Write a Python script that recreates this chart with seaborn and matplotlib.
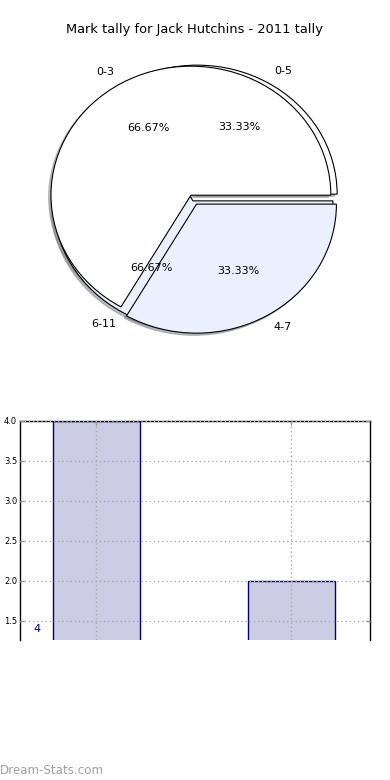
import matplotlib
matplotlib.use("Agg")
import matplotlib.pyplot as plt
import seaborn as sns
import pandas as pd

title = "Mark tally for Jack Hutchins - 2011 tally"

# two tallies drawn on the same pie axes
back_labels = ["0-5", "6-11"]
back_counts = [1, 2]
front_labels = ["0-3", "4-7"]
front_counts = [2, 1]

bar_groups = ["0-3", "4-7"]
bar_counts = [4, 2]
y_ticks = [1.5, 2.0, 2.5, 3.0, 3.5, 4.0]

pie_colors = ["white", "#eaf0fd"]

fig = plt.figure(figsize=(3.9, 7.8), dpi=100)

fig.text(0.5, 1 - 30 / 780, title, ha="center", va="center", fontsize=9.4)

ax1 = fig.add_axes([0.041, 0.543, 0.897, 0.4135])
wp = {"linewidth": 0.8, "edgecolor": "black"}
tp = {"fontsize": 8}
shd = {"ox": -0.012, "oy": -0.012, "shade": 0.5}
ax1.pie(back_counts, labels=back_labels, colors=pie_colors, explode=[0.0, 0.06],
        center=(0.045, 0.008), autopct="%.2f%%", shadow=shd, startangle=0,
        wedgeprops=wp, textprops=tp, labeldistance=1.1, pctdistance=0.6)
ax1.pie(front_counts, labels=front_labels, colors=pie_colors, explode=[0.0, 0.08],
        autopct="%.2f%%", shadow=shd, startangle=0,
        wedgeprops=wp, textprops=tp, labeldistance=1.1, pctdistance=0.6)
ax1.set_aspect("auto")
ax1.set_xlim(-1.25, 1.25)
ax1.set_ylim(-1.25, 1.25)
ax1.axis("off")

ax2 = fig.add_axes([0.0513, 0.1795, 0.8974, 0.2808])
df = pd.DataFrame({"group": bar_groups, "count": bar_counts})
sns.barplot(data=df, x="group", y="count", color="#ccccE4", edgecolor="navy",
            linewidth=1, width=0.446, saturation=1, ax=ax2)
ax2.set_xlim(-0.392, 1.403)
ax2.set_ylim(1.26, 4.0)
ax2.set_yticks(y_ticks)
ax2.set_yticklabels([f"{v:.1f}" for v in y_ticks])
ax2.set_xticks([0, 1])
ax2.set_xticklabels([])
ax2.set_xlabel("")
ax2.set_ylabel("")
ax2.set_axisbelow(False)
ax2.grid(True, linestyle=(0, (1, 2)), color="#aaaaaa", linewidth=1)
ax2.tick_params(direction="in", length=3, width=1, color="#999999",
                right=True, top=True, bottom=False, labelsize=6, pad=2)
ax2.spines["bottom"].set_visible(False)
for s in ["left", "right", "top"]:
    ax2.spines[s].set_linewidth(1)
ax2.text(0 - 0.305, 1.4, str(bar_counts[0]), color="navy", fontsize=8,
         ha="center", va="center")

fig.text(0.0, 1 - 770 / 780, "Dream-Stats.com", color="#a0a0a0", fontsize=8.6,
         fontweight="medium", ha="left", va="center")

fig.savefig("out.png", dpi=100)
